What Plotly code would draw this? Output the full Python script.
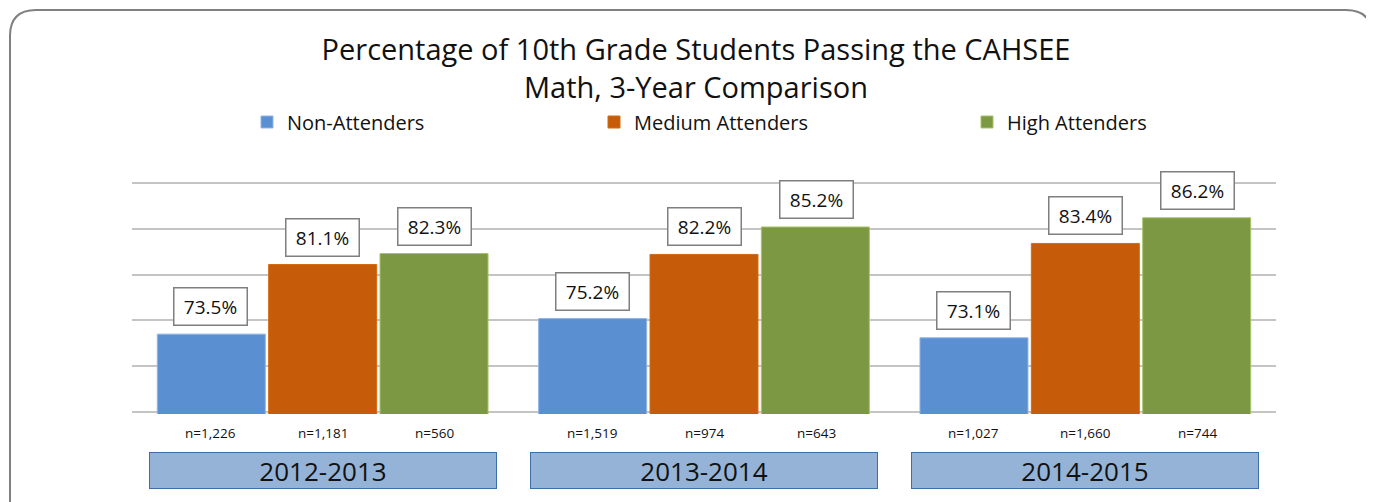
import plotly.graph_objects as go

years = ["2012-2013", "2013-2014", "2014-2015"]
series_names = ["Non-Attenders", "Medium Attenders", "High Attenders"]
non_attenders = [73.5, 75.2, 73.1]
medium_attenders = [81.1, 82.2, 83.4]
high_attenders = [82.3, 85.2, 86.2]
n_non = ["n=1,226", "n=1,519", "n=1,027"]
n_medium = ["n=1,181", "n=974", "n=1,660"]
n_high = ["n=560", "n=643", "n=744"]

title_text = "Percentage of 10th Grade Students Passing the CAHSEE<br>Math, 3-Year Comparison"

colors = ["#5a8fd2", "#c65c09", "#7d9843"]
line_colors = ["#8fb5e3", "#d46a10", "#a6c468"]
FONT = "Open Sans"

OFF = 8  # page body margin
W, H = 1374, 502
PPU = 229 / 25.0  # pixels per percentage unit
PAD = 2  # px of extra range so edge gridlines draw
L = 132 - OFF
PW = 1144
R = W - L - PW
T = 183 - OFF - PAD
PH = 229 + 2 * PAD
B = H - T - PH
y0 = 65 - PAD / PPU
y1 = 90 + PAD / PPU

def px_x(p):
    return (p - OFF - L) / PW

def px_y(p):
    return (T + PH - (p - OFF)) / PH

fig = go.Figure()
all_vals = [non_attenders, medium_attenders, high_attenders]
all_n = [n_non, n_medium, n_high]
legend_ids = ["legend", "legend2", "legend3"]
legend_starts = [247, 594, 967]
for name, vals, c, lc, lid in zip(series_names, all_vals, colors, line_colors, legend_ids):
    fig.add_trace(go.Bar(x=years, y=vals, name=name, legend=lid, showlegend=True,
                         marker=dict(color=c, line=dict(color=lc, width=1))))

offsets = [-112, 0, 112]
annotations = []
for vals, ns, off in zip(all_vals, all_n, offsets):
    for yr, v, n in zip(years, vals, ns):
        annotations.append(dict(x=yr, y=v, xref="x", yref="y", xshift=off, yshift=8,
                                yanchor="bottom", showarrow=False, width=60, height=24,
                                text=f"{v:.1f}%", font=dict(family=FONT, size=19, color="#111"),
                                bgcolor="white", bordercolor="#7f7f7f", borderwidth=1.5, borderpad=6))
        annotations.append(dict(x=yr, y=px_y(433), xref="x", yref="paper", xshift=off,
                                yanchor="middle", showarrow=False, text=n,
                                font=dict(family=FONT, size=13.5, color="#111")))
for yr in years:
    annotations.append(dict(x=yr, y=px_y(470.5), xref="x", yref="paper", yanchor="middle",
                            showarrow=False, text=yr, width=346, height=35, borderpad=0,
                            bgcolor="#95b3d7", bordercolor="#3f6ea8", borderwidth=1,
                            font=dict(family=FONT, size=26, color="#111")))

# outer rounded frame
xl, xr = px_x(10), px_x(1372)
yt, yb = px_y(10), px_y(530)
rx, ry = 26 / PW, 26 / PH
frame = (f"M {xl},{yb} L {xl},{yt - ry} Q {xl},{yt} {xl + rx},{yt} "
         f"L {xr - rx},{yt} Q {xr},{yt} {xr},{yt - ry} L {xr},{yb}")

legend_common = dict(orientation="h", xanchor="left", yanchor="middle", y=px_y(122),
                     font=dict(family=FONT, size=20, color="#111"), bgcolor="rgba(0,0,0,0)")

fig.update_layout(
    width=W, height=H,
    margin=dict(l=L, r=R, t=T, b=B),
    paper_bgcolor="white", plot_bgcolor="white",
    showlegend=True,
    barmode="group", bargap=0.124, bargroupgap=0.03,
    title=dict(text=title_text, x=(696 - OFF) / W, xanchor="center", xref="container",
               y=1 - (60 - OFF) / H, yanchor="middle", yref="container",
               font=dict(family=FONT, size=29, color="#111")),
    legend=dict(x=px_x(legend_starts[0]), **legend_common),
    legend2=dict(x=px_x(legend_starts[1]), **legend_common),
    legend3=dict(x=px_x(legend_starts[2]), **legend_common),
    xaxis=dict(showticklabels=False, showgrid=False, zeroline=False, showline=False),
    yaxis=dict(range=[y0, y1], tick0=65, dtick=5, showticklabels=False, showgrid=True,
               gridcolor="#c4c4c4", gridwidth=1.5, zeroline=False, showline=False),
    annotations=annotations,
    shapes=[dict(type="path", path=frame, xref="paper", yref="paper",
                 line=dict(color="#808080", width=2), layer="above")],
)

fig.write_html("out.html")
